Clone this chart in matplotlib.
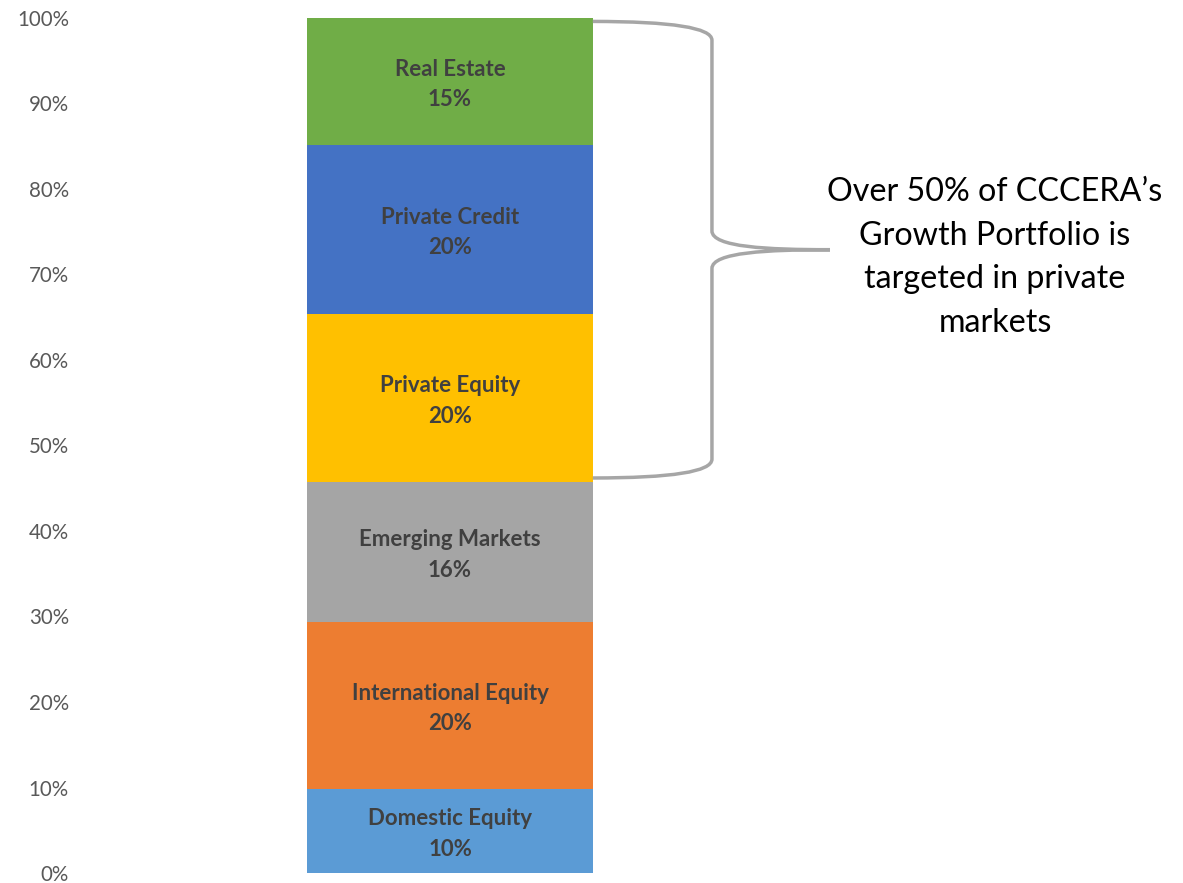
import matplotlib
matplotlib.use("Agg")
import matplotlib.pyplot as plt
from matplotlib.path import Path
from matplotlib.patches import PathPatch

# segments from bottom to top
names = ["Domestic Equity", "International Equity", "Emerging Markets",
         "Private Equity", "Private Credit", "Real Estate"]
labels = ["10%", "20%", "16%", "20%", "20%", "15%"]
heights = [9.8, 19.6, 16.3, 19.7, 19.7, 14.9]   # share of bar
colors = ["#5B9BD5", "#ED7D31", "#A5A5A5", "#FFC000", "#4472C4", "#70AD47"]
yticks = [0, 10, 20, 30, 40, 50, 60, 70, 80, 90, 100]
note = "Over 50% of CCCERA\u2019s\nGrowth Portfolio is\ntargeted in private\nmarkets"

plt.rcParams["font.family"] = ["Lato", "DejaVu Sans"]

W, H = 1183, 883
fig = plt.figure(figsize=(W / 100, H / 100), dpi=100)
ax = fig.add_axes([80 / W, 10 / H, 740 / W, 855 / H])

bottom = 0
for name, lab, h, c in zip(names, labels, heights, colors):
    ax.bar(0, h, width=0.773, bottom=bottom, color=c, linewidth=0)
    ax.text(0, bottom + h / 2 - 0.35, name + "\n" + lab, ha="center", va="center",
            fontsize=16, fontweight="bold", color="#404040", linespacing=1.55)
    bottom += h

ax.set_xlim(-1, 1)
ax.set_ylim(0, 100)
ax.set_yticks(yticks)
ax.set_yticklabels([f"{t}%" for t in yticks], color="#595959", fontsize=14.8)
ax.set_xticks([])
ax.tick_params(axis="y", length=0, pad=8)
for s in ax.spines.values():
    s.set_visible(False)

# curly brace over the private market segments
lo = sum(heights[:3]) + 0.5
hi = 100 - 0.4
mid = (lo + hi) / 2
x0, x1, x2 = 0.386, 0.708, 1.027
d = 2.2
verts = [(x0, hi), (x1, hi), (x1, hi - d),
         (x1, mid + d),
         (x1, mid + 0.3), (x1 + 0.15, mid), (x2, mid),
         (x1 + 0.15, mid), (x1, mid - 0.3), (x1, mid - d),
         (x1, lo + d),
         (x1, lo), (x0, lo)]
codes = [Path.MOVETO, Path.CURVE3, Path.CURVE3,
         Path.LINETO,
         Path.CURVE4, Path.CURVE4, Path.CURVE4,
         Path.CURVE4, Path.CURVE4, Path.CURVE4,
         Path.LINETO,
         Path.CURVE3, Path.CURVE3]
ax.add_patch(PathPatch(Path(verts, codes), fill=False, edgecolor="#A6A6A6",
                       linewidth=2.5, clip_on=False))

ax.text(1.473, 72.0, note, ha="center", va="center", fontsize=23.2,
        color="black", linespacing=1.57, clip_on=False)

fig.savefig("out.png", dpi=100)
